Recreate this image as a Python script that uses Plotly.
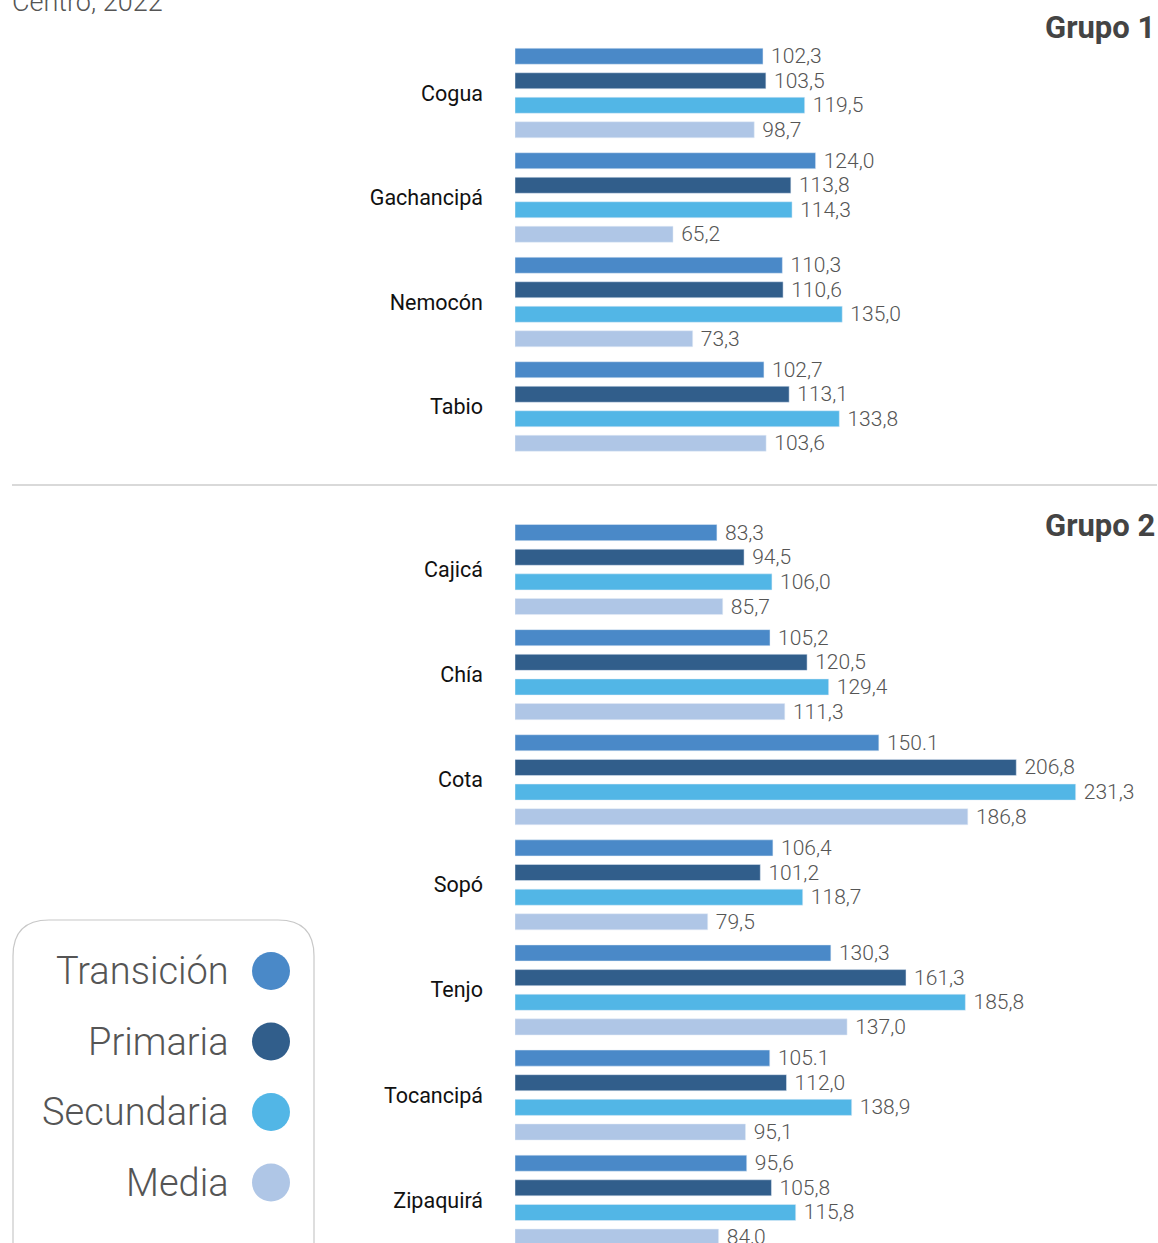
import plotly.graph_objects as go

W, H = 1158, 1243

series = ["Transición", "Primaria", "Secundaria", "Media"]
colors = ["#4A89C8", "#315E8B", "#52B6E6", "#AFC6E6"]

grupo1_cats = ["Cogua", "Gachancipá", "Nemocón", "Tabio"]
grupo1_transicion = [102.3, 124.0, 110.3, 102.7]
grupo1_primaria = [103.5, 113.8, 110.6, 113.1]
grupo1_secundaria = [119.5, 114.3, 135.0, 133.8]
grupo1_media = [98.7, 65.2, 73.3, 103.6]

grupo2_cats = ["Cajicá", "Chía", "Cota", "Sopó", "Tenjo", "Tocancipá", "Zipaquirá"]
grupo2_transicion = [83.3, 105.2, 150.1, 106.4, 130.3, 105.1, 95.6]
grupo2_primaria = [94.5, 120.5, 206.8, 101.2, 161.3, 112.0, 105.8]
grupo2_secundaria = [106.0, 129.4, 231.3, 118.7, 185.8, 138.9, 115.8]
grupo2_media = [85.7, 111.3, 186.8, 79.5, 137.0, 95.1, 84.0]

# labels printed with a decimal point instead of a comma in the original
dot_labels = {("Cota", "Transición"), ("Tocancipá", "Transición")}

def fmt(v, cat, s):
    t = f"{v:.1f}"
    if (cat, s) not in dot_labels:
        t = t.replace(".", ",")
    return " " + t

fig = go.Figure()

groups = [
    (grupo1_cats, [grupo1_transicion, grupo1_primaria, grupo1_secundaria, grupo1_media], "x", "y"),
    (grupo2_cats, [grupo2_transicion, grupo2_primaria, grupo2_secundaria, grupo2_media], "x2", "y2"),
]
for gi, (cats, vals, xa, ya) in enumerate(groups):
    for s, c, v in zip(series, colors, vals):
        fig.add_trace(go.Bar(
            y=cats, x=v, orientation="h", name=s, marker_color=c,
            text=[fmt(val, cat, s) for val, cat in zip(v, cats)],
            textposition="outside", cliponaxis=False, constraintext="none",
            textfont=dict(family="Roboto", size=21, color="#555555", weight=300),
            xaxis=xa, yaxis=ya, showlegend=False, hoverinfo="skip",
        ))

px_per_unit = 2.424
x0 = 515
xmax = (W - x0) / px_per_unit

def yfrac(p):
    return 1 - p / H

tickfont = dict(family="Roboto", size=21.5, color="#111111", weight=400)
axis_x = dict(range=[0, xmax], domain=[x0 / W, 1], visible=False, fixedrange=True)
fig.update_layout(
    width=W, height=H,
    margin=dict(l=0, r=0, t=0, b=0),
    paper_bgcolor="white", plot_bgcolor="white",
    barmode="group", bargap=0.062, bargroupgap=0.347,
    xaxis=dict(axis_x, anchor="y"),
    xaxis2=dict(axis_x, anchor="y2"),
    yaxis=dict(domain=[yfrac(458.75), yfrac(40.75)], range=[3.5, -0.5], anchor="x",
               showgrid=False, zeroline=False, showline=False, ticks="",
               ticklabelstandoff=31, tickfont=tickfont, fixedrange=True),
    yaxis2=dict(domain=[0, yfrac(517)], range=[-0.5 + (H - 517) / 105.1, -0.5], anchor="x2",
                showgrid=False, zeroline=False, showline=False, ticks="",
                ticklabelstandoff=31, tickfont=tickfont, fixedrange=True),
    showlegend=False,
)

# header text (cut off at top)
fig.add_annotation(text="Centro, 2022", xref="paper", yref="paper", x=10 / W, y=yfrac(20),
                   xanchor="left", yanchor="bottom", showarrow=False,
                   font=dict(family="Roboto", size=27, color="#555555", weight=300))
# group titles
for label, py in [("Grupo 1", 27), ("Grupo 2", 525)]:
    fig.add_annotation(text=label, xref="paper", yref="paper", x=1157 / W, y=yfrac(py),
                       xanchor="right", yanchor="middle", showarrow=False,
                       font=dict(family="Roboto", size=31, color="#444444", weight="bold"))
# separator
fig.add_shape(type="line", xref="paper", yref="paper", x0=12 / W, x1=1157 / W,
              y0=yfrac(485), y1=yfrac(485), line=dict(color="#cccccc", width=1.5))

# legend box (rounded, cut at bottom)
bx0, bx1, by0, by1, r = 13, 314, 920, 1280, 36
def P(x, y):
    return f"{x / W:.5f},{yfrac(y):.5f}"
path = (f"M {P(bx0, by1)} L {P(bx0, by0 + r)} Q {P(bx0, by0)} {P(bx0 + r, by0)} "
        f"L {P(bx1 - r, by0)} Q {P(bx1, by0)} {P(bx1, by0 + r)} L {P(bx1, by1)}")
fig.add_shape(type="path", path=path, xref="paper", yref="paper",
              line=dict(color="#c8c8c8", width=1.2))
for i, (s, c) in enumerate(zip(series, colors)):
    cy = 971 + i * 70.5
    rr = 19
    fig.add_shape(type="circle", xref="paper", yref="paper",
                  x0=(271 - rr) / W, x1=(271 + rr) / W, y0=yfrac(cy + rr), y1=yfrac(cy - rr),
                  fillcolor=c, line=dict(width=0))
    fig.add_annotation(text=s, xref="paper", yref="paper", x=231 / W, y=yfrac(cy),
                       xanchor="right", yanchor="middle", showarrow=False,
                       font=dict(family="Roboto", size=38, color="#555555", weight=300))

fig.write_html("out.html", config={"displayModeBar": False},
               post_script="document.body.style.margin='0';document.body.style.overflow='hidden';")
